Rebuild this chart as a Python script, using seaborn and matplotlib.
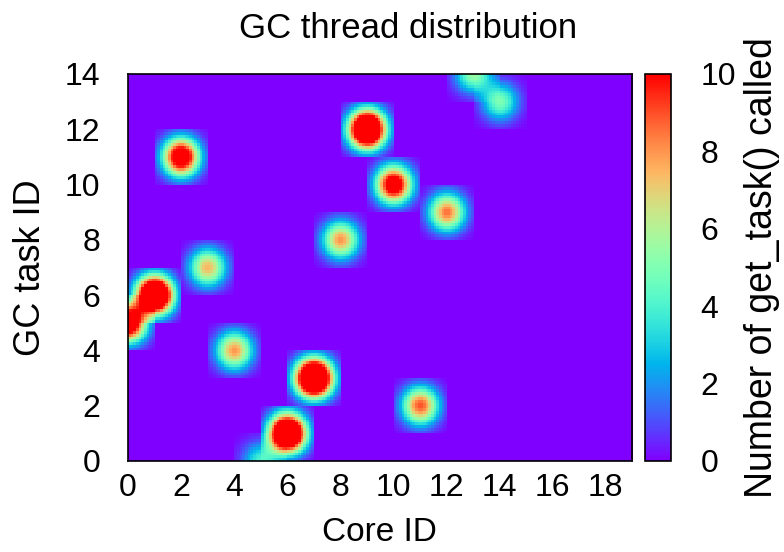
import numpy as np
import matplotlib
matplotlib.use("Agg")
import matplotlib.pyplot as plt
import seaborn as sns

# Data: (core id, gc task id, count)
core_ids = [0, 1, 2, 3, 4, 5, 6, 7, 8, 9, 10, 11, 12, 13, 14]
task_ids = [5, 6, 11, 7, 4, 0, 1, 3, 8, 12, 10, 2, 9, 14, 13]
counts = [13.5, 18, 12.8, 7.5, 8, 4, 18, 19, 8, 18, 12, 9, 8.5, 5.5, 5]
n_cores = 20
n_tasks = 15
x_ticks = list(range(0, 19, 2))
y_ticks = list(range(0, 15, 2))
cb_ticks = [0, 2, 4, 6, 8, 10]

sns.set_theme(style="white")
plt.rcParams["font.family"] = ["Liberation Sans", "DejaVu Sans"]
plt.rcParams["text.color"] = "black"
plt.rcParams["axes.labelcolor"] = "black"
plt.rcParams["xtick.color"] = "black"
plt.rcParams["ytick.color"] = "black"

grid = np.zeros((n_tasks, n_cores))
for c, t, v in zip(core_ids, task_ids, counts):
    grid[t, c] = v

# smooth rendering of the cell grid (interpolated surface, 10 steps per cell)
sub = 10
def weights(n, lo, hi):
    f = np.linspace(lo, hi, int(round((hi - lo) * sub)) + 1)
    f = 0.5 * (f[:-1] + f[1:])
    d = np.abs(f[:, None] - np.arange(n)[None, :])
    return np.where(d < 0.96, np.exp(-d ** 2 / (2 * 0.47 ** 2)), 0.0)

wx = weights(n_cores, 0, 19)
wy = weights(n_tasks, 0, 14)
fine = wy @ grid @ wx.T

cmap = sns.color_palette("rainbow", as_cmap=True)

fig = plt.figure(figsize=(7.84, 5.52), dpi=100)
ax = fig.add_axes([0.163, 0.165, 0.643, 0.701])
cax = fig.add_axes([0.823, 0.165, 0.033, 0.701])

im = ax.imshow(fine, origin="lower", cmap=cmap, vmin=0, vmax=10,
               interpolation="nearest", extent=(0, 19, 0, 14), aspect="auto")
ax.set_xlim(0, 19)
ax.set_ylim(0, 14)
ax.set_xticks(x_ticks)
ax.set_yticks(y_ticks)
ax.tick_params(length=0, labelsize=23)
ax.tick_params(axis="x", pad=9)
ax.tick_params(axis="y", pad=20)
for s in ax.spines.values():
    s.set_color("black")
    s.set_linewidth(1.2)
    s.set_visible(True)
ax.set_xlabel("Core ID", fontsize=24, labelpad=10)
ax.set_ylabel("GC task ID", fontsize=26, labelpad=12)
ax.set_title("GC thread distribution", fontsize=25, pad=26, x=0.555)

cb = fig.colorbar(im, cax=cax, ticks=cb_ticks)
cb.ax.tick_params(length=0, labelsize=23, pad=21)
cb.outline.set_edgecolor("black")
cb.outline.set_linewidth(1.2)
cb.set_label("Number of get_task() called", fontsize=27, labelpad=6)

fig.savefig("out.png", dpi=100)
